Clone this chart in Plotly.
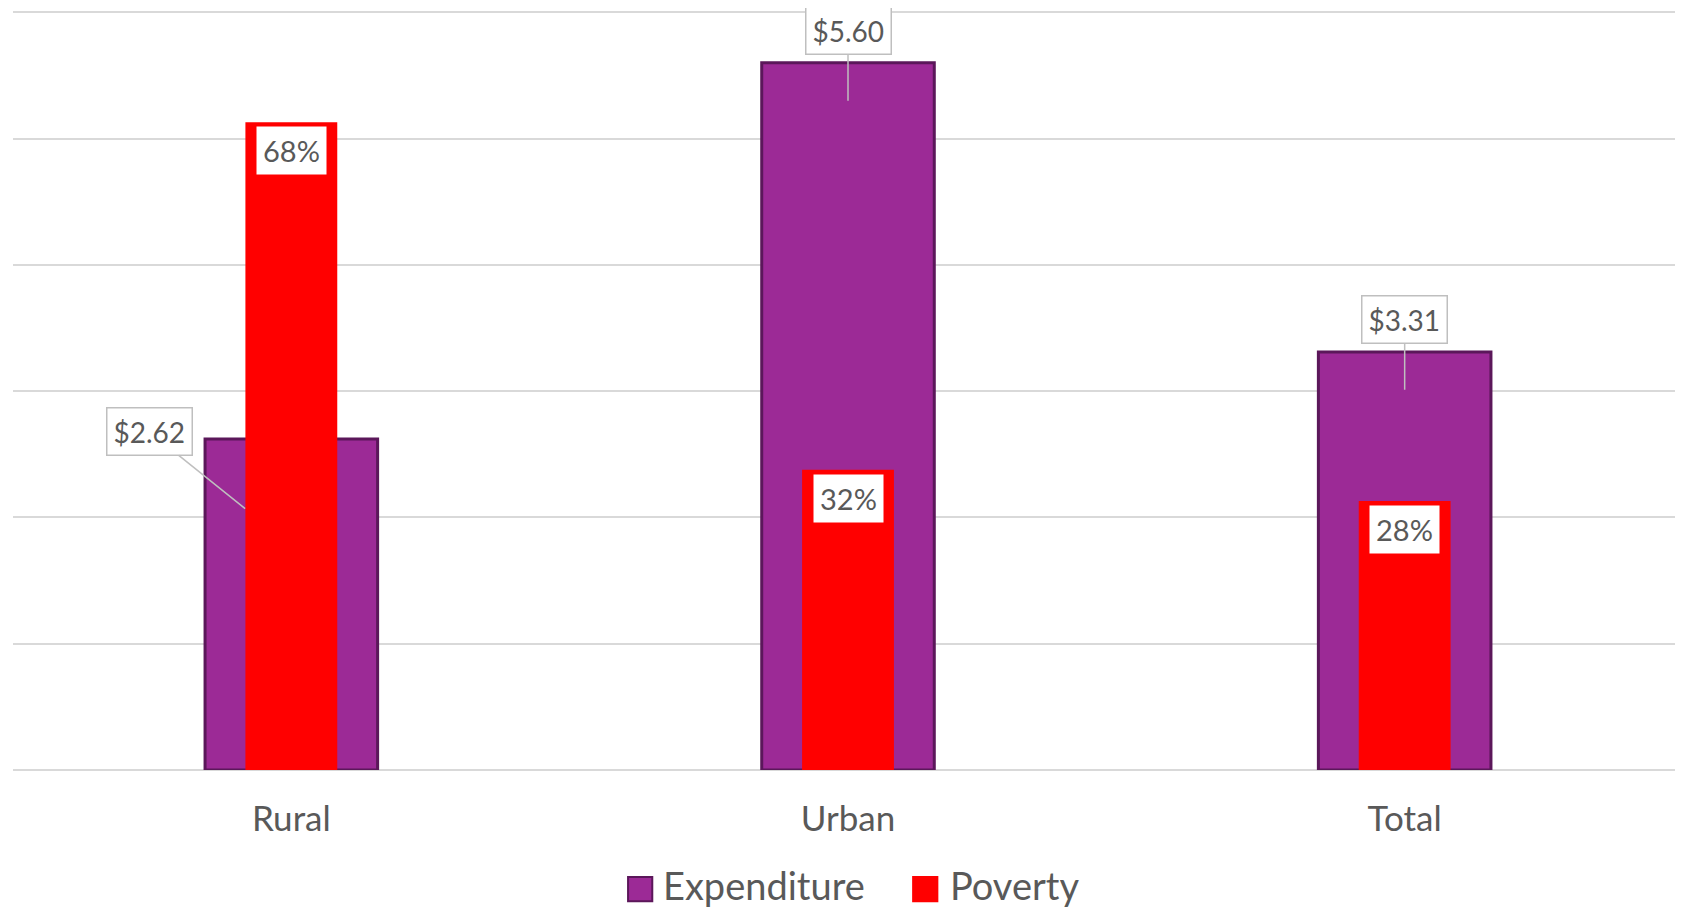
import plotly.graph_objects as go

# data
categories = ["Rural", "Urban", "Total"]
expenditure = [2.62, 5.60, 3.31]
poverty = [0.684, 0.317, 0.284]
series_names = ["Expenditure", "Poverty"]

PURPLE = "#9c2a96"
PURPLE_EDGE = "#5b175a"
RED = "#ff0000"
TEXT = "#595959"
GRID = "#d9d9d9"
FONT = "Lato, 'Open Sans', sans-serif"

EXP_W = 0.31
POV_W = 0.165
EXP_MAX = 6.01  # a hair over 6 so the top gridline is drawn

fig = go.Figure()

fig.add_trace(
    go.Bar(
        x=categories,
        y=expenditure,
        width=EXP_W,
        offset=-EXP_W / 2,
        marker=dict(color=PURPLE, line=dict(color=PURPLE_EDGE, width=3)),
        name=series_names[0],
        yaxis="y",
        showlegend=False,
    )
)
fig.add_trace(
    go.Bar(
        x=categories,
        y=poverty,
        width=POV_W,
        offset=-POV_W / 2,
        marker=dict(color=RED, line=dict(width=0)),
        name=series_names[1],
        yaxis="y2",
        showlegend=False,
    )
)

# callout labels for expenditure
callout_pos = [(-0.083, -0.55, -96, -77), (0.0, -0.3, 0, -70), (0.0, -0.3, 0, -70)]
for i, val in enumerate(expenditure):
    dx, dy, ax, ay = callout_pos[i]
    fig.add_annotation(
        x=i + dx,
        y=val + dy,
        xref="x",
        yref="y",
        text=f"${val:.2f}",
        showarrow=True,
        arrowhead=0,
        arrowwidth=1.5,
        arrowcolor="#bfbfbf",
        ax=ax,
        ay=ay,
        bgcolor="white",
        bordercolor="#bfbfbf",
        borderwidth=1.5,
        borderpad=6,
        font=dict(family=FONT, size=28, color=TEXT),
    )

# boxed percentage labels inside the poverty bars
for i, val in enumerate(poverty):
    fig.add_annotation(
        x=i,
        y=val,
        xref="x",
        yref="y2",
        yanchor="top",
        yshift=-4,
        text=f"{val:.0%}",
        showarrow=False,
        bgcolor="white",
        borderpad=6,
        font=dict(family=FONT, size=29, color=TEXT),
    )

# legend drawn by hand so the swatches can be as big as in the original
legend_items = [
    (series_names[0], PURPLE, PURPLE_EDGE, 0.3683, 0.3886),
    (series_names[1], RED, RED, 0.539, 0.5605),
]
for name, fill, edge, sx, tx in legend_items:
    fig.add_shape(
        type="rect",
        xref="paper",
        yref="paper",
        x0=sx,
        x1=sx + 0.0145,
        y0=-0.141,
        y1=-0.173,
        fillcolor=fill,
        line=dict(color=edge, width=2),
    )
    fig.add_annotation(
        x=tx,
        y=-0.151,
        xref="paper",
        yref="paper",
        xanchor="left",
        yanchor="middle",
        text=name,
        showarrow=False,
        borderpad=0,
        font=dict(family=FONT, size=38, color=TEXT),
    )

fig.update_layout(
    width=1675,
    height=902,
    margin=dict(l=5, r=0, t=3, b=140),
    plot_bgcolor="white",
    paper_bgcolor="white",
    barmode="overlay",
    font=dict(family=FONT, color=TEXT),
    showlegend=False,
    xaxis=dict(
        type="category",
        showgrid=False,
        showline=False,
        ticks="",
        ticklabelstandoff=25,
        tickfont=dict(family=FONT, size=35, color=TEXT),
    ),
    yaxis=dict(
        range=[0, EXP_MAX],
        dtick=1,
        showgrid=True,
        gridcolor=GRID,
        gridwidth=2,
        zeroline=True,
        zerolinecolor=GRID,
        zerolinewidth=2,
        showticklabels=False,
        ticks="",
    ),
    yaxis2=dict(
        range=[0, 0.8 * EXP_MAX / 6],
        overlaying="y",
        side="right",
        showgrid=False,
        zeroline=False,
        showticklabels=False,
        ticks="",
    ),
)

fig.write_html("out.html")
